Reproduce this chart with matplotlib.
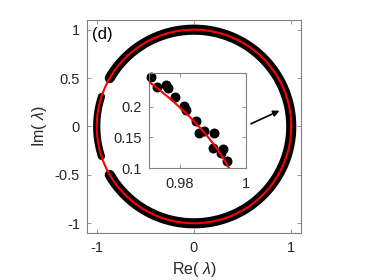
import numpy as np
import matplotlib
matplotlib.use("Agg")
import matplotlib.pyplot as plt

plt.rcParams['font.family'] = ['Liberation Sans', 'DejaVu Sans']
plt.rcParams['mathtext.fontset'] = 'custom'
plt.rcParams['mathtext.it'] = 'Liberation Sans:italic'
plt.rcParams['mathtext.rm'] = 'Liberation Sans'

# Black eigenvalue bands on the unit circle: (start deg, end deg, band width pt)
arc_starts = [-150.0, 162.0]
arc_ends = [150.0, 198.0]
arc_widths = [7.3, 5.2]

# Inset eigenvalues (zoom near Re=1, Im in 0.1..0.25)
inset_re = [0.9712, 0.9732, 0.9758, 0.9765, 0.9785, 0.9812, 0.9820,
            0.9850, 0.9858, 0.9874, 0.9905, 0.9900, 0.9932, 0.9925, 0.9942]
inset_im = [0.2477, 0.2315, 0.2352, 0.2299, 0.2153, 0.2006, 0.1946,
            0.1773, 0.1578, 0.1606, 0.1578, 0.1325, 0.1313, 0.1249, 0.1124]

main_xticks = [-1, 0, 1]
main_yticks = [-1, -0.5, 0, 0.5, 1]
inset_xticks = [0.98, 1.0]
inset_yticks = [0.1, 0.15, 0.2]

grey = '#808080'
txt = '#262626'

fig = plt.figure(figsize=(3.74, 2.80), dpi=100)
ax = fig.add_axes([0.2326, 0.1679, 0.5722, 0.7607])

for a0, a1, w in zip(arc_starts, arc_ends, arc_widths):
    th = np.radians(np.linspace(a0, a1, 400))
    ax.plot(np.cos(th), np.sin(th), color='black', lw=w, solid_capstyle='round')

t = np.linspace(0, 2 * np.pi, 720)
ax.plot(np.cos(t), np.sin(t), color='red', lw=1.5)

ax.set_xlim(-1.1, 1.1)
ax.set_ylim(-1.1, 1.1)
ax.set_xticks(main_xticks)
ax.set_xticklabels(['-1', '0', '1'])
ax.set_yticks(main_yticks)
ax.set_yticklabels(['-1', '-0.5', '0', '0.5', '1'])
ax.tick_params(direction='in', length=3, width=0.6, color=grey, labelcolor=txt,
               labelsize=10.5, top=True, right=True)
ax.tick_params(axis='x', pad=6)
ax.tick_params(axis='y', pad=5)
for s in ax.spines.values():
    s.set_color(grey)
    s.set_linewidth(0.8)
ax.set_xlabel('Re( $\\lambda$)', fontsize=11.5, color=txt, va='center')
ax.set_ylabel('Im( $\\lambda$)', fontsize=11.5, color=txt, va='center')
ax.xaxis.set_label_coords(0.5, -0.172)
ax.yaxis.set_label_coords(-0.224, 0.5)
ax.text(-1.05, 0.95, '(d)', fontsize=12, color='black', ha='left', va='center')

ax.annotate('', xy=(0.879, 0.163), xytext=(0.586, 0.028),
            arrowprops=dict(arrowstyle='-|>', color='black', lw=1.2,
                            mutation_scale=9, shrinkA=0, shrinkB=0))

ins = fig.add_axes([0.3973, 0.3989, 0.2596, 0.3415])
ins.scatter(inset_re, inset_im, s=38, color='black', zorder=2, clip_on=False)
ins.plot(np.cos(t), np.sin(t), color='red', lw=1.5, zorder=3)
ins.set_xlim(0.9706, 1.0)
ins.set_ylim(0.1, 0.255)
ins.set_xticks(inset_xticks)
ins.set_xticklabels(['0.98', '1'])
ins.set_yticks(inset_yticks)
ins.set_yticklabels(['0.1', '0.15', '0.2'])
ins.tick_params(direction='in', length=3, width=0.6, color=grey, labelcolor=txt,
                labelsize=10.5, top=True, right=True)
ins.tick_params(axis='x', pad=6)
ins.tick_params(axis='y', pad=5)
for s in ins.spines.values():
    s.set_color(grey)
    s.set_linewidth(0.8)

fig.savefig('out.png', dpi=100)
